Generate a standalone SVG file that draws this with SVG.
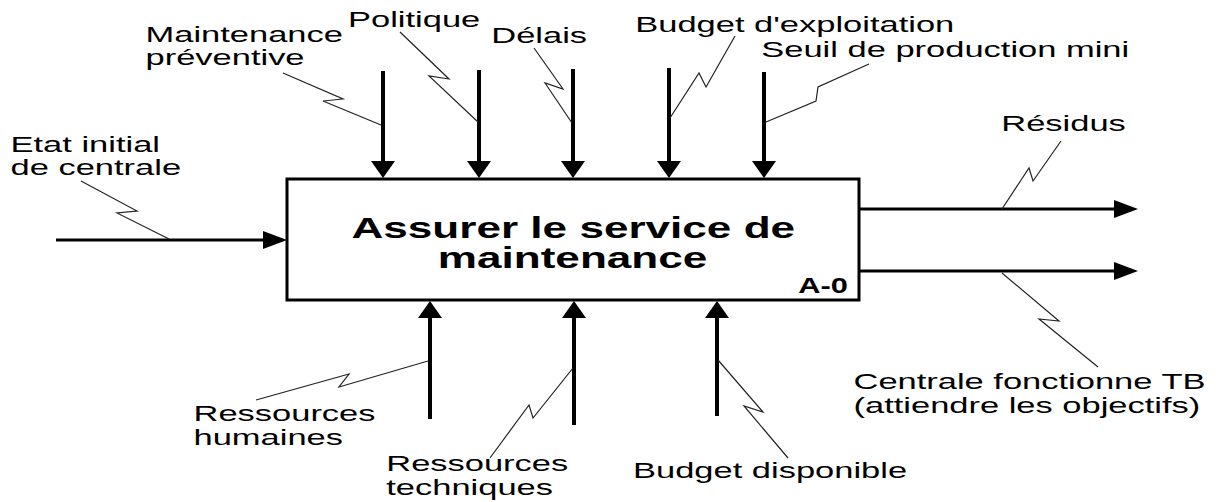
<svg xmlns="http://www.w3.org/2000/svg" width="1223" height="502" viewBox="0 0 1223 502">
<style>
.lbl{font-family:"Liberation Sans",Arial,sans-serif;font-size:23px;fill:#000}
.ttl{font-family:"Liberation Sans",Arial,sans-serif;font-size:30px;font-weight:bold;fill:#000;text-anchor:middle}
.code{font-family:"Liberation Sans",Arial,sans-serif;font-size:22px;font-weight:bold;fill:#000;text-anchor:end}
.arr{stroke:#000;stroke-width:4;fill:none}
.arrh{stroke:#000;stroke-width:3;fill:none}
.sq{stroke:#222;stroke-width:1.2;fill:none}
.box{fill:#fff;stroke:#000;stroke-width:3}
</style>
<defs>
<marker id="hv" markerUnits="userSpaceOnUse" markerWidth="18" markerHeight="26" viewBox="0 -13 18 26" refX="0" refY="0" orient="auto">
<path d="M0,-12 L17,0 L0,12 Z" fill="#000"/>
</marker>
<marker id="hh" markerUnits="userSpaceOnUse" markerWidth="25" markerHeight="20" viewBox="0 -10 25 20" refX="0" refY="0" orient="auto">
<path d="M0,-9 L24,0 L0,9 Z" fill="#000"/>
</marker>
</defs>
<rect width="1223" height="502" fill="#fff"/>

<g id="connectors">
<line class="arrh" x1="56" y1="240" x2="263" y2="240" marker-end="url(#hh)"/>
<line class="arr" x1="383" y1="71" x2="383" y2="161" marker-end="url(#hv)"/>
<line class="arr" x1="479" y1="70" x2="479" y2="161" marker-end="url(#hv)"/>
<line class="arr" x1="573" y1="69" x2="573" y2="161" marker-end="url(#hv)"/>
<line class="arr" x1="669" y1="68" x2="669" y2="161" marker-end="url(#hv)"/>
<line class="arr" x1="764" y1="72" x2="764" y2="161" marker-end="url(#hv)"/>
<line class="arrh" x1="859" y1="209" x2="1114" y2="209" marker-end="url(#hh)"/>
<line class="arrh" x1="859" y1="271" x2="1114" y2="271" marker-end="url(#hh)"/>
<line class="arr" x1="430" y1="419" x2="430" y2="318" marker-end="url(#hv)"/>
<line class="arr" x1="574" y1="425" x2="574" y2="318" marker-end="url(#hv)"/>
<line class="arr" x1="717" y1="416" x2="717" y2="318" marker-end="url(#hv)"/>
<path class="sq" d="M81,181 L137,211 L117,213 L169,239"/>
<path class="sq" d="M283,73 L343,99 L323,101 L381,125"/>
<path class="sq" d="M400,32 L449,79 L429,76 L478,122"/>
<path class="sq" d="M534,48 L563,89 L545,83 L572,123"/>
<path class="sq" d="M735,36 L706,87 L699,73 L670,118"/>
<path class="sq" d="M869,64 L818,87 L816,101 L766,122"/>
<path class="sq" d="M1061,141 L1033,181 L1029,168 L1002,209"/>
<path class="sq" d="M1002,273 L1059,321 L1039,319 L1098,367"/>
<path class="sq" d="M428,361 L339,387 L349,374 L256,400"/>
<path class="sq" d="M573,368 L533,418 L529,405 L490,458"/>
<path class="sq" d="M718,360 L763,412 L744,406 L788,458"/>
</g>

<g id="node-A0">
<rect class="box" x="287" y="179" width="572" height="121"/>
<text class="ttl" transform="scale(1.47,1)" x="390" y="238">Assurer le service de<tspan x="389.5" dy="30">maintenance</tspan></text>
<text class="code" transform="scale(1.4,1)" x="605.7" y="293">A-0</text>
</g>

<g id="label-etat"><text class="lbl" transform="scale(1.5,1)" x="7" y="152">Etat initial<tspan x="7" dy="23">de centrale</tspan></text></g>
<g id="label-maintenance"><text class="lbl" transform="scale(1.5,1)" x="97" y="42">Maintenance<tspan x="97" dy="23">préventive</tspan></text></g>
<g id="label-politique"><text class="lbl" transform="scale(1.5,1)" x="232" y="27">Politique</text></g>
<g id="label-delais"><text class="lbl" transform="scale(1.5,1)" x="327.5" y="43">Délais</text></g>
<g id="label-budget-exploitation"><text class="lbl" transform="scale(1.5,1)" x="423.5" y="32">Budget d'exploitation</text></g>
<g id="label-seuil"><text class="lbl" transform="scale(1.5,1)" x="507.5" y="57">Seuil de production mini</text></g>
<g id="label-residus"><text class="lbl" transform="scale(1.5,1)" x="667.5" y="131">Résidus</text></g>
<g id="label-centrale"><text class="lbl" transform="scale(1.5,1)" x="569" y="389">Centrale fonctionne TB<tspan x="569" dy="24">(attiendre les objectifs)</tspan></text></g>
<g id="label-rh"><text class="lbl" transform="scale(1.5,1)" x="129" y="421">Ressources<tspan x="129" dy="24">humaines</tspan></text></g>
<g id="label-rt"><text class="lbl" transform="scale(1.5,1)" x="257.5" y="471">Ressources<tspan x="257.5" dy="24">techniques</tspan></text></g>
<g id="label-budget-disponible"><text class="lbl" transform="scale(1.5,1)" x="422" y="478">Budget disponible</text></g>
</svg>
